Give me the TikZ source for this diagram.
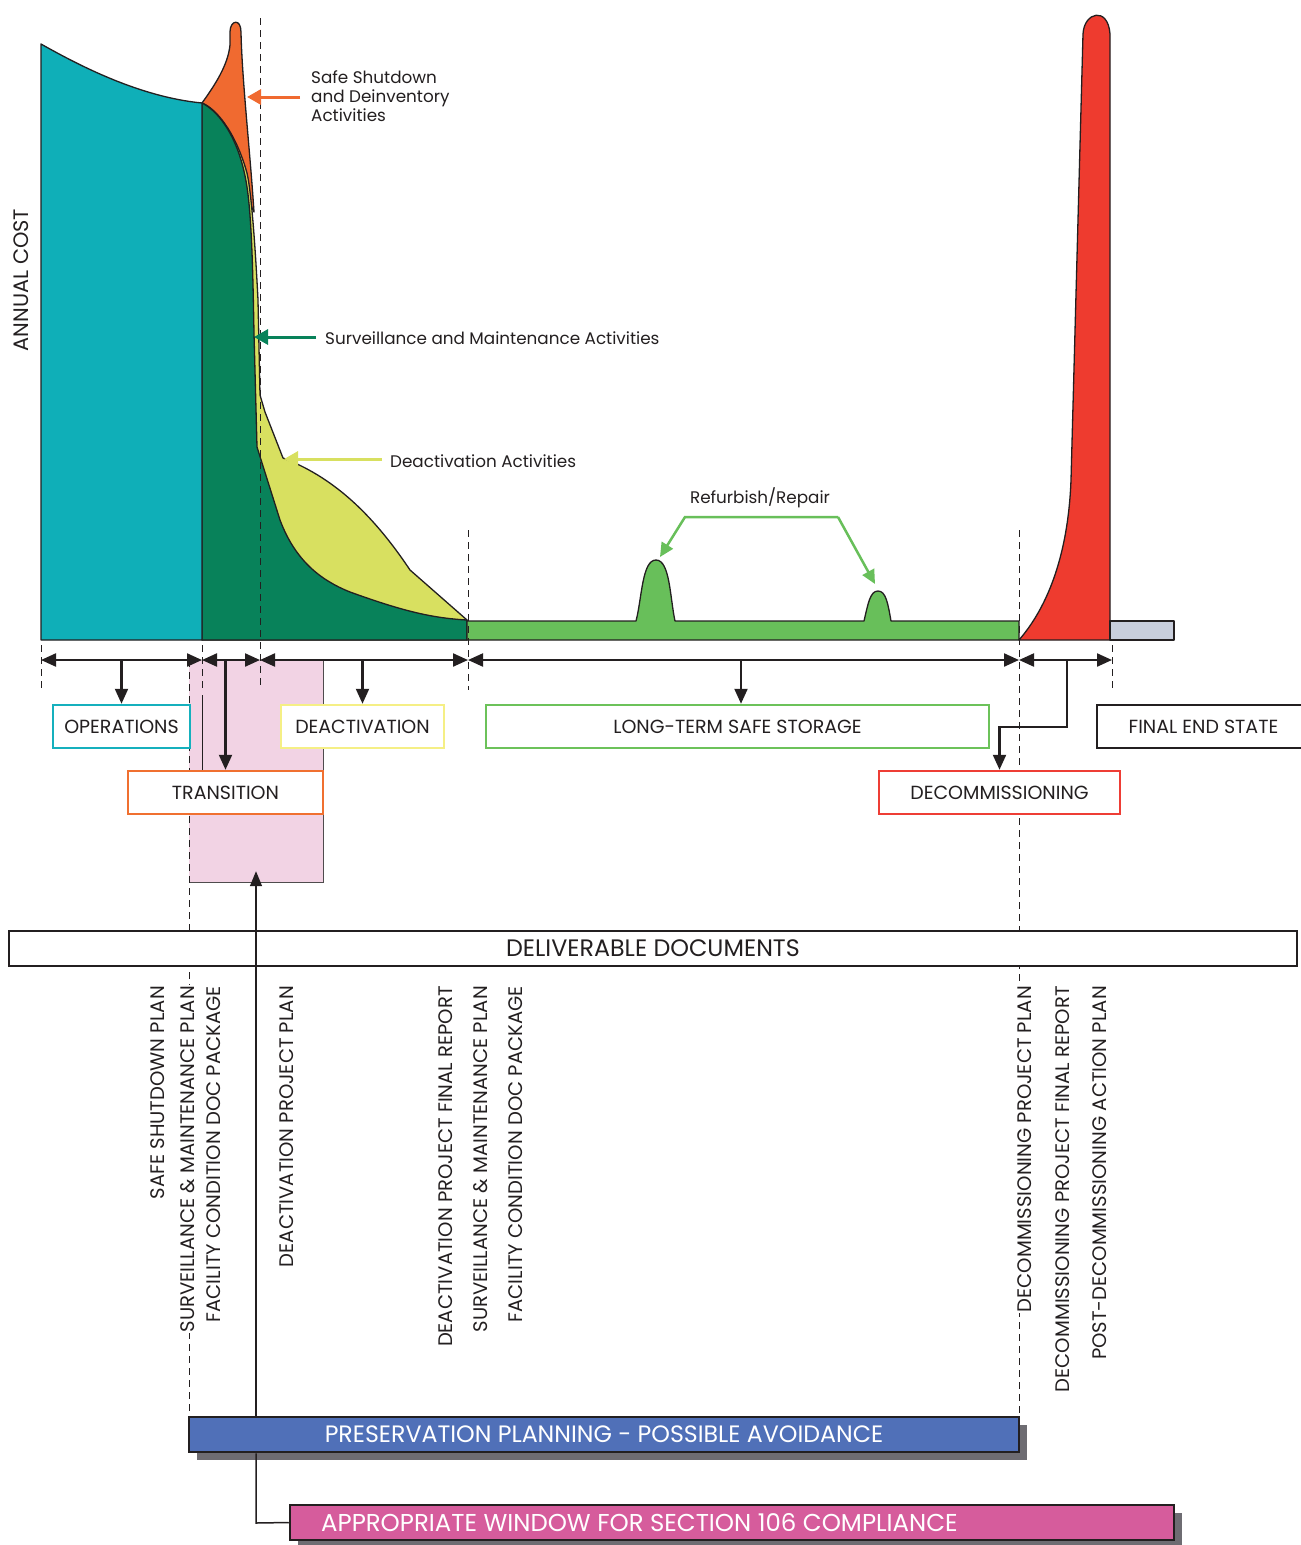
\documentclass[tikz,border=0pt]{standalone}
\usepackage{fontspec}
\setmainfont{Poppins}
\usetikzlibrary{arrows.meta,calc}
\definecolor{ink}{HTML}{231F20}
\definecolor{cteal}{HTML}{0FAFB8}
\definecolor{cdkgreen}{HTML}{08825A}
\definecolor{cyel}{HTML}{D8E060}
\definecolor{corange}{HTML}{F06A30}
\definecolor{clgreen}{HTML}{68BF5A}
\definecolor{cred}{HTML}{EE3B2F}
\definecolor{cgrey}{HTML}{C8CEDC}
\definecolor{cpink}{HTML}{F2D3E4}
\definecolor{cblue}{HTML}{5070B8}
\definecolor{cmag}{HTML}{D65C9C}
\definecolor{cshadow}{HTML}{6E6C72}
\definecolor{opsb}{HTML}{15B0BD}
\definecolor{deacb}{HTML}{F5EF85}
\definecolor{ltsb}{HTML}{6CC25A}
\definecolor{transb}{HTML}{F07030}
\definecolor{decb}{HTML}{EE3D35}
\tikzset{
  area/.style={draw=ink, line width=1.3pt, line join=round},
  phase/.style={draw, fill=white, line width=2.5pt, minimum height=43pt, inner sep=0pt, text=ink, font=\fontsize{19}{19}\selectfont},
  tl/.style={draw=ink, line width=2.2pt, {Triangle[length=15pt,width=13pt]}-{Triangle[length=15pt,width=13pt]}},
  dn/.style={draw=ink, line width=2.2pt, -{Triangle[length=15pt,width=13pt]}},
  guide/.style={draw=ink, line width=1pt, dash pattern=on 7pt off 5pt},
  docv/.style={rotate=90, anchor=east, inner sep=1pt, text=ink, font=\fontsize{19.6}{19.6}\selectfont},
  callout/.style={line width=3pt, -{Triangle[length=14pt,width=15pt]}},
  note/.style={text=ink, font=\fontsize{16.8}{19}\selectfont, inner sep=0pt},
  bar/.style={draw=ink, line width=2.5pt, minimum height=35pt, inner sep=0pt, text=white, font=\fontsize{23.7}{23.7}\selectfont}
}
\begin{document}
\begin{tikzpicture}[x=1pt,y=-1pt]
\useasboundingbox (0,0) rectangle (1301,1545);

% ---------- chart areas ----------
\draw[area, fill=corange] (202,103) .. controls (215,85) and (228,65) .. (230,45) -- (230,32)
  .. controls (230,20) and (241,18) .. (241,32) .. controls (242,80) and (250,150) .. (254,212) -- cycle;
\draw[area, fill=cyel] (202,103) .. controls (215,108) and (235,130) .. (247,173)
  .. controls (252,195) and (256,260) .. (258,300) -- (260,395) -- (265,412) -- (283,458)
  .. controls (330,476) and (370,510) .. (410,570) -- (467,620) -- (467,640) -- (202,640) -- cycle;
\draw[area, fill=cdkgreen] (202,103) .. controls (220,112) and (240,140) .. (247,187)
  .. controls (252,220) and (253,280) .. (254,333) -- (257,447) -- (280,520)
  .. controls (295,560) and (320,580) .. (350,592) .. controls (400,610) and (430,618) .. (467,620)
  -- (467,640) -- (202,640) -- cycle;
\draw[area, fill=cteal] (41,640) -- (41,44) .. controls (80,66) and (140,97) .. (202,103) -- (202,640) -- cycle;
\draw[area, fill=clgreen] (467,640) -- (467,621) -- (636,621)
  .. controls (642,598) and (642,560) .. (656,560) .. controls (670,560) and (670,598) .. (675,621)
  -- (864,621) .. controls (868,604) and (870,591) .. (878,591) .. controls (886,591) and (888,604) .. (891,621)
  -- (1019,621) -- (1019,640) -- cycle;
\draw[area, fill=cred] (1019,640) .. controls (1045,610) and (1068,560) .. (1071,480) -- (1083,34)
  .. controls (1084,12) and (1108,6) .. (1110,34) -- (1110,640) -- cycle;
\draw[area, fill=cgrey] (1110,621) rectangle (1174,640);

% ---------- transition window ----------
\node[fill=cpink, minimum width=134pt, minimum height=222pt, inner sep=0pt] (win) at (256,771) {};
\draw[draw=ink!80, line width=1pt] (win.north east) -- (win.south east) -- (win.south west);

% ---------- guide lines ----------
\draw[guide] (260,18) -- (260,686);
\draw[guide] (468,530) -- (468,690);
\draw[guide] (1019,530) -- (1019,1415);
\draw[guide] (41,645) -- (41,690);
\draw[guide] (202,645) -- (202,692);
\draw[guide] (1112,645) -- (1112,692);
\draw[guide] (189,660) -- (189,1415);
\draw[draw=ink, line width=1pt] (202,695) -- (202,770);

% ---------- timeline ----------
\coordinate (t0) at (41,660);
\coordinate (t1) at (202,660);
\coordinate (t2) at (260,660);
\coordinate (t3) at (468,660);
\coordinate (t4) at (1019,660);
\coordinate (t5) at (1112,660);
\draw[tl] (t0) -- (t1);
\draw[tl] (t1) -- (t2);
\draw[tl] (t2) -- (t3);
\draw[tl] (t3) -- (t4);
\draw[tl] (t4) -- (t5);

% ---------- phase boxes ----------
\node[phase, draw=opsb, minimum width=137pt] (ops) at (121.5,726.5) {OPERATIONS};
\node[phase, draw=deacb, minimum width=163pt] (deac) at (362.5,726.5) {DEACTIVATION};
\node[phase, draw=ltsb, minimum width=503pt] (lts) at (737.5,726.5) {LONG-TERM SAFE STORAGE};
\node[phase, draw=ink, minimum width=213pt] (fes) at (1203.5,726.5) {FINAL END STATE};
\node[phase, draw=transb, minimum width=195pt] (trans) at (225.5,792.5) {TRANSITION};
\node[phase, draw=decb, minimum width=241pt] (dec) at (999.5,792.5) {DECOMMISSIONING};

\coordinate (a1) at (121.5,660);
\coordinate (a2) at (225.5,660);
\coordinate (a3) at (362.5,660);
\coordinate (a4) at (741,660);
\coordinate (a5) at (1067,660);
\coordinate (bend) at (1067,727);
\draw[dn] (a1) -- (ops.north);
\draw[dn] (a2) -- (trans.north);
\draw[dn] (a3) -- (deac.north);
\draw[dn] (a4) -- (a4 |- lts.north);
\draw[dn] (a5) -- (bend) -| (dec.north);

% ---------- deliverables ----------
\node[draw=ink, line width=2.5pt, fill=white, minimum width=1288pt, minimum height=35pt, inner sep=0pt,
  text=ink, font=\fontsize{23.8}{23.8}\selectfont] (deliv) at (653,948.5) {DELIVERABLE DOCUMENTS};

\node[docv] (d1) at (158,985) {SAFE SHUTDOWN PLAN};
\node[docv, fill=white] (d2) at (188,985) {SURVEILLANCE \& MAINTENANCE PLAN};
\node[docv] (d3) at (214,985) {FACILITY CONDITION DOC PACKAGE};
\node[docv] (d4) at (287,985) {DEACTIVATION PROJECT PLAN};
\node[docv] (d5) at (446,985) {DEACTIVATION PROJECT FINAL REPORT};
\node[docv] (d6) at (481,985) {SURVEILLANCE \& MAINTENANCE PLAN};
\node[docv] (d7) at (516,985) {FACILITY CONDITION DOC PACKAGE};
\node[docv, fill=white] (d8) at (1025,985) {DECOMMISSIONING PROJECT PLAN};
\node[docv] (d9) at (1063,985) {DECOMMISSIONING PROJECT FINAL REPORT};
\node[docv] (d10) at (1100,985) {POST-DECOMMISSIONING ACTION PLAN};

% ---------- bottom bars ----------
\fill[cshadow] (197,1425) rectangle (1027,1460);
\fill[cshadow] (298,1513) rectangle (1182,1548);
\node[bar, fill=cblue, minimum width=830pt] (pres) at (604,1434.5) {PRESERVATION PLANNING - POSSIBLE AVOIDANCE};
\node[bar, fill=cmag, minimum width=884pt] (sect) at (732,1522.5) {};
\node[text=white, font=\fontsize{24.4}{24.4}\selectfont, anchor=west, inner sep=0pt] (sectt) at (321,1523) {APPROPRIATE WINDOW FOR SECTION 106 COMPLIANCE};

\coordinate (elb) at (256,1523);
\draw[draw=ink, line width=1.5pt, -{Triangle[length=15pt,width=12pt]}] (win.south |- pres.north) -- ([yshift=11pt]win.south);
\draw[draw=ink, line width=1.5pt] (win.south |- pres.south) -- (elb) -- (sect.west);

% ---------- annotations ----------
\node[note, anchor=north west, align=left] (ssl) at (311,70) {Safe Shutdown\\and Deinventory\\Activities};
\node[note, anchor=west] (svl) at (325,338) {Surveillance and Maintenance Activities};
\node[note, anchor=west] (dal) at (390,461) {Deactivation Activities};
\node[note] (rfl) at (760,498) {Refurbish/Repair};
\node[note, rotate=90, font=\fontsize{20.9}{20.9}\selectfont] (ac) at (21,280) {ANNUAL COST};

\coordinate (ssTip) at (247,97);
\coordinate (svTip) at (254,337);
\coordinate (daTip) at (284,459);
\coordinate (rfA) at (685,517);
\coordinate (rfB) at (838,517);
\coordinate (rb1) at (660,557);
\coordinate (rb2) at (875,584);
\draw[callout, corange] (ssl.west |- ssTip) ++(-11,0) -- (ssTip);
\draw[callout, cdkgreen] ([xshift=-9pt]svl.west |- svTip) -- (svTip);
\draw[callout, cyel] ([xshift=-8pt]dal.west |- daTip) -- (daTip);
\draw[line width=2.5pt, clgreen, -{Triangle[length=14pt,width=13pt]}] (rfB) -- (rfA) -- (rb1);
\draw[line width=2.5pt, clgreen, -{Triangle[length=14pt,width=13pt]}] (rfB) -- (rb2);
\end{tikzpicture}
\end{document}
